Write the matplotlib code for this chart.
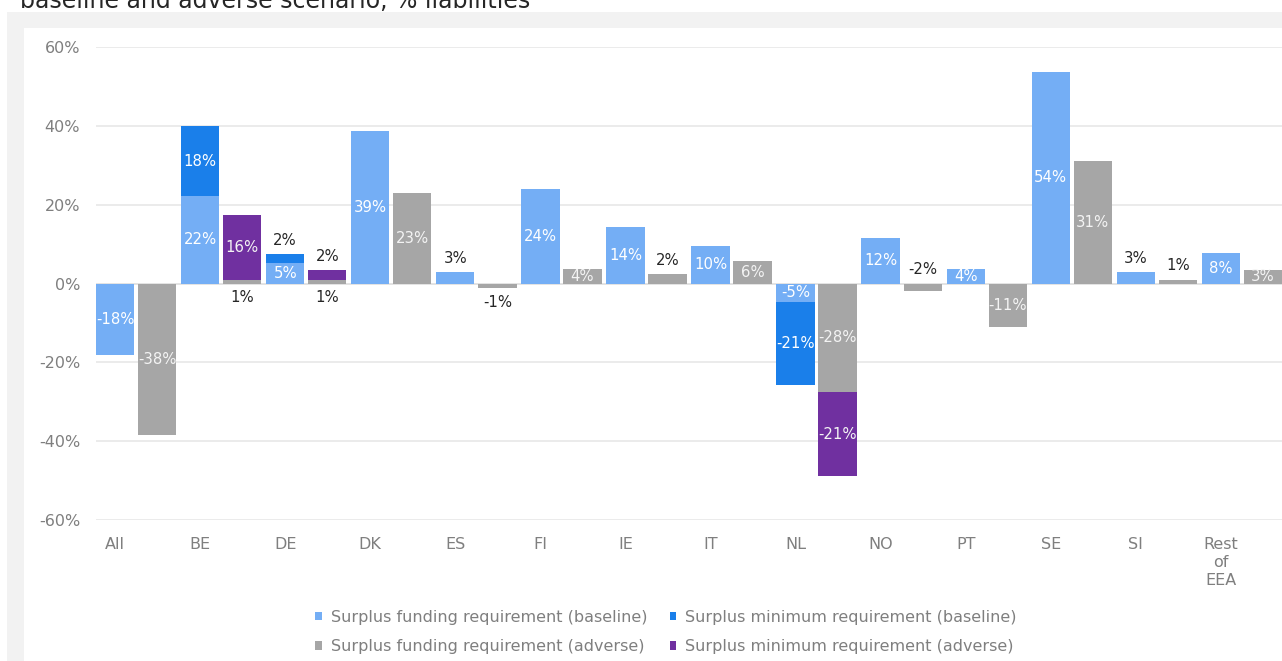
import matplotlib
matplotlib.use('Agg')
import matplotlib.pyplot as plt
from matplotlib.patches import Rectangle
import numpy as np

# ---------------- data ----------------
categories = ['All', 'BE', 'DE', 'DK', 'ES', 'FI', 'IE', 'IT', 'NL', 'NO', 'PT', 'SE', 'SI', 'Rest\nof\nEEA']
funding_baseline = [-18.2, 22.1, 5.1, 38.7, 2.8, 24.1, 14.4, 9.6, -4.8, 11.6, 3.8, 53.7, 2.8, 7.8]
minimum_baseline = [0, 17.8, 2.4, 0, 0, 0, 0, 0, -21.0, 0, 0, 0, 0, 0]
funding_adverse = [-38.5, 1.0, 1.0, 23.0, -1.2, 3.6, 2.3, 5.6, -27.6, -1.9, -11.1, 31.1, 1.0, 3.3]
minimum_adverse = [0, 16.3, 2.3, 0, 0, 0, 0, 0, -21.3, 0, 0, 0, 0, 0]
yticks = [-60, -40, -20, 0, 20, 40, 60]
series_names = ['Surplus funding requirement (baseline)', 'Surplus minimum requirement (baseline)',
                'Surplus funding requirement (adverse)', 'Surplus minimum requirement (adverse)']

# label placement styles ('in' = white centred, 'above' / 'below' = dark outside)
fb_pos = ['in', 'in', 'in', 'in', 'above', 'in', 'in', 'in', 'in', 'in', 'in', 'in', 'above', 'in']
mb_pos = [None, 'in', 'above', None, None, None, None, None, 'in', None, None, None, None, None]
fa_pos = ['in', 'below', 'below', 'in', 'below', 'in', 'above', 'in', 'in', 'above', 'in', 'in', 'above', 'in']
ma_pos = [None, 'in', 'above', None, None, None, None, None, 'in', None, None, None, None, None]

# ---------------- style ----------------
C_FB = '#74aef5'
C_MB = '#1a7fea'
C_FA = '#a6a6a6'
C_MA = '#7030a0'
TXT = '#7f7f7f'

W, H = 1282, 661
fig = plt.figure(figsize=(W / 100, H / 100), dpi=100)
fig.patch.set_facecolor('white')
fig.patches.append(Rectangle((7 / W, 0), 1, 1 - 12 / H, transform=fig.transFigure,
                             facecolor='#f2f2f2', edgecolor='none', zorder=-10))
fig.patches.append(Rectangle((24 / W, 0), 1, 1 - 28 / H, transform=fig.transFigure,
                             facecolor='white', edgecolor='none', zorder=-9))

fig.text(20 / W, 1 - 8 / H, 'baseline and adverse scenario, % liabilities', fontsize=17,
         va='baseline', ha='left', color='#262626', zorder=-8)

ax = fig.add_axes([96 / W, 1 - 520 / H, 1186 / W, 473 / H])
ax.set_facecolor('white')

x = np.arange(len(categories))
off = 0.247
bw = 0.45
xb = x - off
xa = x + off

fb = np.array(funding_baseline)
mb = np.array(minimum_baseline)
fa = np.array(funding_adverse)
ma = np.array(minimum_adverse)

ax.bar(xb, fb, bw, color=C_FB, zorder=3)
ax.bar(xb, mb, bw, bottom=fb, color=C_MB, zorder=3)
ax.bar(xa, fa, bw, color=C_FA, zorder=3)
ax.bar(xa, ma, bw, bottom=fa, color=C_MA, zorder=3)


def put_labels(xs, vals, bottoms, modes, incolor):
    for xi, v, b, m in zip(xs, vals, bottoms, modes):
        if m is None:
            continue
        txt = f'{v:.0f}%'
        lo, hi = min(b, b + v), max(b, b + v)
        if m == 'in':
            ax.text(xi, b + v / 2, txt, ha='center', va='center', fontsize=10.7,
                    color=incolor, zorder=5)
        elif m == 'above':
            ax.annotate(txt, (xi, max(hi, 0)), xytext=(0, 10), textcoords='offset points',
                        ha='center', va='center', fontsize=10.7, color='#262626', zorder=5)
        else:
            ax.annotate(txt, (xi, min(lo, 0)), xytext=(0, -10), textcoords='offset points',
                        ha='center', va='center', fontsize=10.7, color='#262626', zorder=5)


put_labels(xb, fb, np.zeros_like(fb), fb_pos, 'white')
put_labels(xb, mb, fb, mb_pos, 'white')
put_labels(xa, fa, np.zeros_like(fa), fa_pos, '#f4f4f4')
put_labels(xa, ma, fa, ma_pos, '#f4f4f4')

ax.set_xlim(-0.472, len(categories) - 1 + 0.472)
ax.set_ylim(-60, 60)
ax.set_yticks(yticks)
ax.set_yticklabels([f'{t}%' for t in yticks])
ax.set_xticks(xb)
ax.set_xticklabels(categories, linespacing=1.25)
ax.tick_params(axis='both', length=0, labelsize=11.5, labelcolor=TXT)
ax.tick_params(axis='y', pad=11.5)
ax.tick_params(axis='x', pad=12)
for s in ax.spines.values():
    s.set_visible(False)
ax.grid(axis='y', color='#e8e8e8', linewidth=1.2, zorder=0)
ax.set_axisbelow(True)
ax.axhline(0, color='#e3e3e3', linewidth=1.4, zorder=2)

handles = [Rectangle((0, 0), 1, 1, facecolor=c, edgecolor='none') for c in [C_FB, C_FA, C_MB, C_MA]]
labels = [series_names[0], series_names[2], series_names[1], series_names[3]]
fig.legend(handles, labels, loc='center', bbox_to_anchor=(666 / W, 1 - 632 / H), ncol=2,
           frameon=False, fontsize=11.5, labelcolor=TXT, handlelength=0.42, handleheight=0.42,
           handletextpad=0.55, columnspacing=1.4, labelspacing=0.9, borderpad=0)

fig.savefig('out.png', dpi=100)
